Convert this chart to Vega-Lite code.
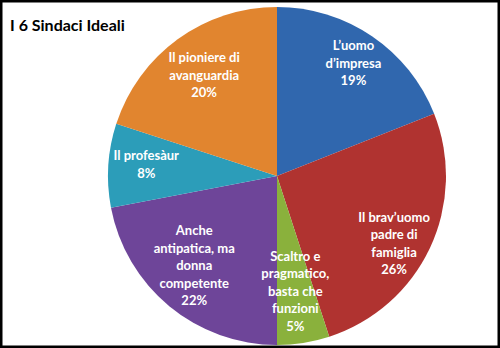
{
  "$schema": "https://vega.github.io/schema/vega-lite/v6.json",
  "width": 500,
  "height": 348,
  "autosize": "none",
  "padding": 0,
  "background": "white",
  "view": {"stroke": "black", "strokeWidth": 5},
  "title": {
    "text": "I 6 Sindaci Ideali",
    "anchor": "start",
    "orient": "none",
    "frame": "group",
    "dx": 10,
    "dy": 31,
    "baseline": "alphabetic",
    "font": "Lato",
    "fontSize": 16,
    "fontWeight": "bold",
    "color": "black"
  },
  "config": {"view": {"stroke": "black", "strokeWidth": 5}},
  "data": {
    "values": [
      {"order": 1, "name": "L’uomo d’impresa", "value": 19, "label": "L’uomo\nd’impresa\n19%"},
      {"order": 2, "name": "Il brav’uomo padre di famiglia", "value": 26, "label": "Il brav’uomo\npadre di\nfamiglia\n26%"},
      {"order": 3, "name": "Scaltro e pragmatico, basta che funzioni", "value": 5, "label": "Scaltro e\npragmatico,\nbasta che\nfunzioni\n5%"},
      {"order": 4, "name": "Anche antipatica, ma donna competente", "value": 22, "label": "Anche\nantipatica, ma\ndonna\ncompetente\n22%"},
      {"order": 5, "name": "Il profesàur", "value": 8, "label": "Il profesàur\n8%"},
      {"order": 6, "name": "Il pioniere di avanguardia", "value": 20, "label": "Il pioniere di\navanguardia\n20%"}
    ]
  },
  "encoding": {
    "theta": {"field": "value", "type": "quantitative", "stack": true},
    "order": {"field": "order", "type": "quantitative"}
  },
  "layer": [
    {
      "mark": {"type": "arc", "outerRadius": 169, "xOffset": 27, "yOffset": 2},
      "encoding": {
        "color": {
          "field": "name",
          "type": "nominal",
          "sort": null,
          "legend": null,
          "scale": {
            "domain": ["L’uomo d’impresa", "Il brav’uomo padre di famiglia", "Scaltro e pragmatico, basta che funzioni", "Anche antipatica, ma donna competente", "Il profesàur", "Il pioniere di avanguardia"],
            "range": ["#3067AE", "#B03330", "#8AB13C", "#6E4599", "#2C9DB9", "#E1852F"]
          }
        }
      }
    },
    {
      "mark": {"type": "text", "radius": 136, "xOffset": 27, "yOffset": 2, "dy": -17.5, "lineBreak": "\n", "font": "Lato", "fontSize": 13, "fontWeight": "bold", "fill": "white", "lineHeight": 17.5, "align": "center", "baseline": "middle"},
      "encoding": {"text": {"condition": {"test": "datum.order == 1", "field": "label", "type": "nominal"}, "value": ""}}
    },
    {
      "mark": {"type": "text", "radius": 136, "xOffset": 27, "yOffset": 2, "dx": -6, "dy": -16, "lineBreak": "\n", "font": "Lato", "fontSize": 13, "fontWeight": "bold", "fill": "white", "lineHeight": 17.5, "align": "center", "baseline": "middle"},
      "encoding": {"text": {"condition": {"test": "datum.order == 2", "field": "label", "type": "nominal"}, "value": ""}}
    },
    {
      "mark": {"type": "text", "radius": 117, "xOffset": 27, "yOffset": 2, "dy": -35, "lineBreak": "\n", "font": "Lato", "fontSize": 13, "fontWeight": "bold", "fill": "white", "lineHeight": 17.5, "align": "center", "baseline": "middle"},
      "encoding": {"text": {"condition": {"test": "datum.order == 3", "field": "label", "type": "nominal"}, "value": ""}}
    },
    {
      "mark": {"type": "text", "radius": 122, "xOffset": 27, "yOffset": 2, "dx": -5, "dy": -39, "lineBreak": "\n", "font": "Lato", "fontSize": 13, "fontWeight": "bold", "fill": "white", "lineHeight": 17.5, "align": "center", "baseline": "middle"},
      "encoding": {"text": {"condition": {"test": "datum.order == 4", "field": "label", "type": "nominal"}, "value": ""}}
    },
    {
      "mark": {"type": "text", "radius": 131, "xOffset": 27, "yOffset": 2, "dy": -11.5, "lineBreak": "\n", "font": "Lato", "fontSize": 13, "fontWeight": "bold", "fill": "white", "lineHeight": 17.5, "align": "center", "baseline": "middle"},
      "encoding": {"text": {"condition": {"test": "datum.order == 5", "field": "label", "type": "nominal"}, "value": ""}}
    },
    {
      "mark": {"type": "text", "radius": 124, "xOffset": 27, "yOffset": 2, "dy": -17.5, "lineBreak": "\n", "font": "Lato", "fontSize": 13, "fontWeight": "bold", "fill": "white", "lineHeight": 17.5, "align": "center", "baseline": "middle"},
      "encoding": {"text": {"condition": {"test": "datum.order == 6", "field": "label", "type": "nominal"}, "value": ""}}
    }
  ]
}
